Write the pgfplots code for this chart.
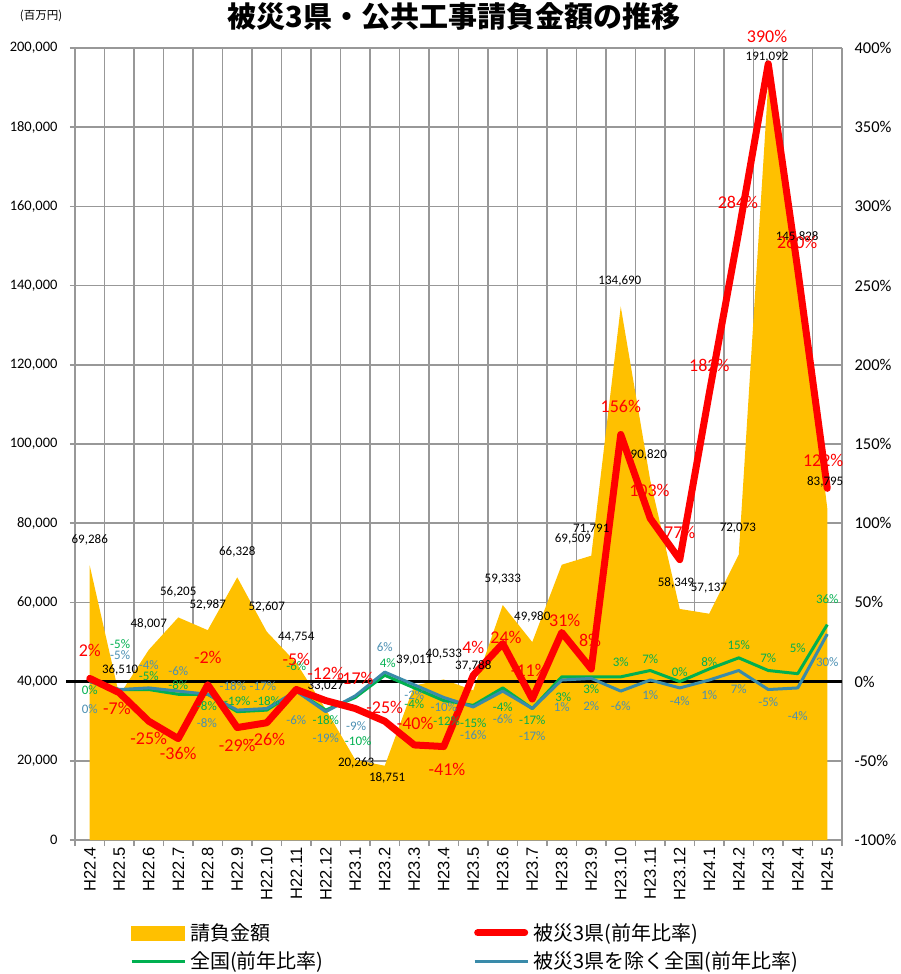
\documentclass[border=0pt]{standalone}
\usepackage{fontspec}
\setmainfont{Carlito}
\newfontfamily\jp{Noto Sans CJK JP}
\newfontfamily\lib{Liberation Sans}
\usepackage{pgfplots}
\pgfplotsset{compat=1.18}
\definecolor{areaY}{HTML}{FFC000}
\definecolor{gridG}{HTML}{989898}
\definecolor{grn}{HTML}{00B050}
\definecolor{tealL}{HTML}{3A8BAA}
\definecolor{tealT}{HTML}{4A8FB2}
\pgfplotsset{base/.style={scale only axis, width=767pt, height=792pt, xmin=-0.5, xmax=25.5,
  /pgf/number format/assume math mode=true}}
\tikzset{
  cnt/.style={font=\fontsize{13}{13}\selectfont, text=black, inner sep=0pt},
  rl/.style={font=\fontsize{18}{18}\selectfont, text=red, inner sep=0pt},
  gl/.style={font=\fontsize{13}{13}\selectfont, text=grn, inner sep=0pt},
  tl/.style={font=\fontsize{13}{13}\selectfont, text=tealT, inner sep=0pt}}
\begin{document}
\begin{tikzpicture}
\useasboundingbox (-75pt,-134pt) rectangle (826pt,840pt);
% ---------- left axis: amounts ----------
\begin{axis}[base,
  ymin=0, ymax=200000,
  ytick={0,20000,40000,60000,80000,100000,120000,140000,160000,180000,200000},
  scaled y ticks=false,
  yticklabel style={/pgf/number format/.cd,fixed,1000 sep={,},/tikz/.cd,
    font=\fontsize{14.5}{14.5}\selectfont, xshift=-9pt},
  xtick={0,...,25},
  xticklabels={H22.4,H22.5,H22.6,H22.7,H22.8,H22.9,H22.10,H22.11,H22.12,H23.1,H23.2,H23.3,H23.4,H23.5,H23.6,H23.7,H23.8,H23.9,H23.10,H23.11,H23.12,H24.1,H24.2,H24.3,H24.4,H24.5},
  x tick label style={font=\lib\fontsize{16.5}{16.5}\selectfont, rotate=90, anchor=east, inner sep=2pt},
  major x tick style={draw=none},
  minor xtick={-0.5,0.5,...,25.5},
  minor tick length=6pt,
  major tick length=5pt,
  tick align=outside,
  xminorgrids, ymajorgrids,
  grid style={gridG, line width=1.6pt},
  minor grid style={gridG, line width=1.6pt},
  minor x tick style={gridG, line width=1.6pt},
  major y tick style={gridG, line width=1.6pt},
  axis x line*=bottom, axis y line*=left,
  axis line style={gridG, line width=1.6pt, -},
]
\addplot[fill=areaY, draw=none] coordinates {
(0,69286)(1,36510)(2,48007)(3,56205)(4,52987)(5,66328)(6,52607)(7,44754)(8,33027)(9,20263)(10,18751)(11,39011)(12,40533)(13,37788)(14,59333)(15,49980)(16,69509)(17,71791)(18,134690)(19,90820)(20,58349)(21,57137)(22,72073)(23,191092)(24,145828)(25,83795)} \closedcycle;
\end{axis}
% ---------- right axis: ratios ----------
\begin{axis}[base,
  ymin=-100, ymax=400,
  axis y line*=right, axis x line=none,
  ytick={-100,-50,0,50,100,150,200,250,300,350,400},
  yticklabel={\pgfmathprintnumber{\tick}\%},
  yticklabel style={font=\fontsize{16.5}{16.5}\selectfont, anchor=west, xshift=9pt},
  major tick length=0pt,
  y axis line style={gridG, line width=1.6pt, -},
  clip=false,
]
\addplot[black, line width=3pt] coordinates {(-0.805,0) (25.5,0)};
\addplot[grn, line width=3pt, line join=round] coordinates {
(0,0)(1,-5)(2,-5)(3,-8)(4,-8)(5,-19)(6,-18)(7,-6)(8,-18)(9,-10)(10,4)(11,-4)(12,-12)(13,-15)(14,-4)(15,-17)(16,3)(17,3)(18,3)(19,7)(20,0)(21,8)(22,15)(23,7)(24,5)(25,36)};
\addplot[tealL, line width=3pt, line join=round] coordinates {
(0,0)(1,-5)(2,-4)(3,-6)(4,-8)(5,-18)(6,-17)(7,-6)(8,-19)(9,-9)(10,6)(11,-2)(12,-10)(13,-16)(14,-6)(15,-17)(16,1)(17,2)(18,-6)(19,1)(20,-4)(21,1)(22,7)(23,-5)(24,-4)(25,30)};
\addplot[red, line width=7pt, line join=round, line cap=round] coordinates {
(0,2)(1,-7)(2,-25)(3,-36)(4,-2)(5,-29)(6,-26)(7,-5)(8,-12)(9,-17)(10,-25)(11,-40)(12,-41)(13,4)(14,24)(15,-11)(16,31)(17,8)(18,156)(19,103)(20,77)(21,182)(22,284)(23,390)(24,260)(25,122)};
\end{axis}
% ---------- labels, title, legend ----------
\begin{axis}[base, ymin=48, ymax=840, y dir=reverse, hide axis, clip=false,
  legend style={at={(axis cs:1.364,947)}, anchor=west, draw=none, fill=none,
    inner sep=0pt, legend columns=2, row sep=10pt,
    font=\jp\fontsize{20}{20}\selectfont,
    nodes={inner sep=0pt},
    /tikz/every odd column/.append style={column sep=4pt},
    /tikz/every even column/.append style={column sep=13pt}},
  legend cell align=left,
]
\addlegendimage{legend image code/.code={\fill[areaY] (0pt,-7pt) rectangle (53pt,7pt);}}
\addlegendentry{\makebox[270pt][l]{請負金額}}
\addlegendimage{legend image code/.code={\draw[red, line width=7pt, line cap=round] (3pt,0pt) -- (50pt,0pt);}}
\addlegendentry{被災3県(前年比率)}
\addlegendimage{legend image code/.code={\draw[grn, line width=3pt] (0pt,0pt) -- (53pt,0pt);}}
\addlegendentry{\makebox[270pt][l]{全国(前年比率)}}
\addlegendimage{legend image code/.code={\draw[tealL, line width=3pt] (0pt,0pt) -- (53pt,0pt);}}
\addlegendentry{被災3県を除く全国(前年比率)}
% title
\node[font=\jp\bfseries\fontsize{29}{29}\selectfont, inner sep=0pt] at (axis cs:12.35,16) {被災3県・公共工事請負金額の推移};
\node[font=\jp\fontsize{11.5}{11.5}\selectfont, inner sep=0pt] at (axis cs:-1.65,16) {(百万円)};
% amount labels
\node[cnt] at (axis cs:0,540) {69,286};
\node[cnt] at (axis cs:1.03,670) {36,510};
\node[cnt] at (axis cs:2,624) {48,007};
\node[cnt] at (axis cs:3,592) {56,205};
\node[cnt] at (axis cs:4,605) {52,987};
\node[cnt] at (axis cs:5,552) {66,328};
\node[cnt] at (axis cs:6,607) {52,607};
\node[cnt] at (axis cs:7,637) {44,754};
\node[cnt] at (axis cs:8,686) {33,027};
\node[cnt] at (axis cs:9.03,763) {20,263};
\node[cnt] at (axis cs:10.08,778) {18,751};
\node[cnt] at (axis cs:11,660) {39,011};
\node[cnt] at (axis cs:12,654) {40,533};
\node[cnt] at (axis cs:13,666) {37,788};
\node[cnt] at (axis cs:14,579) {59,333};
\node[cnt] at (axis cs:15,617) {49,980};
\node[cnt] at (axis cs:16.38,539) {69,509};
\node[cnt] at (axis cs:17,529) {71,791};
\node[cnt] at (axis cs:17.97,281) {134,690};
\node[cnt] at (axis cs:18.95,455) {90,820};
\node[cnt] at (axis cs:19.87,583) {58,349};
\node[cnt] at (axis cs:20.99,588) {57,137};
\node[cnt] at (axis cs:21.97,528) {72,073};
\node[cnt] at (axis cs:22.96,57) {191,092};
\node[cnt] at (axis cs:23.98,237) {145,828};
\node[cnt] at (axis cs:24.93,482) {83,795};
% green labels
\node[gl] at (axis cs:0,690) {0\%};
\node[gl] at (axis cs:1.03,644) {-5\%};
\node[gl] at (axis cs:2,676) {-5\%};
\node[gl] at (axis cs:3,685) {-8\%};
\node[gl] at (axis cs:3.97,706) {-8\%};
\node[gl] at (axis cs:5,701) {-19\%};
\node[gl] at (axis cs:6,701) {-18\%};
\node[gl] at (axis cs:7,666) {-6\%};
\node[gl] at (axis cs:8,720) {-18\%};
\node[gl] at (axis cs:9.1,741) {-10\%};
\node[gl] at (axis cs:10.1,663) {4\%};
\node[gl] at (axis cs:11,704) {-4\%};
\node[gl] at (axis cs:12.1,721) {-12\%};
\node[gl] at (axis cs:13,723) {-15\%};
\node[gl] at (axis cs:14,707) {-4\%};
\node[gl] at (axis cs:15,720) {-17\%};
\node[gl] at (axis cs:16.05,697) {3\%};
\node[gl] at (axis cs:17,689) {3\%};
\node[gl] at (axis cs:18,662) {3\%};
\node[gl] at (axis cs:19,659) {7\%};
\node[gl] at (axis cs:20,672) {0\%};
\node[gl] at (axis cs:21,662) {8\%};
\node[gl] at (axis cs:22,645) {15\%};
\node[gl] at (axis cs:23,658) {7\%};
\node[gl] at (axis cs:24,648) {5\%};
\node[gl] at (axis cs:25,599) {36\%};
% teal labels
\node[tl] at (axis cs:0,709) {0\%};
\node[tl] at (axis cs:1.03,655) {-5\%};
\node[tl] at (axis cs:2,665) {-4\%};
\node[tl] at (axis cs:3,671) {-6\%};
\node[tl] at (axis cs:3.97,723) {-8\%};
\node[tl] at (axis cs:4.85,686) {-18\%};
\node[tl] at (axis cs:5.87,686) {-17\%};
\node[tl] at (axis cs:7,720) {-6\%};
\node[tl] at (axis cs:8,738) {-19\%};
\node[tl] at (axis cs:9.03,726) {-9\%};
\node[tl] at (axis cs:10,647) {6\%};
\node[tl] at (axis cs:11,695) {-2\%};
\node[tl] at (axis cs:12,707) {-10\%};
\node[tl] at (axis cs:13,735) {-16\%};
\node[tl] at (axis cs:14,719) {-6\%};
\node[tl] at (axis cs:15,736) {-17\%};
\node[tl] at (axis cs:16,707) {1\%};
\node[tl] at (axis cs:17,706) {2\%};
\node[tl] at (axis cs:18,706) {-6\%};
\node[tl] at (axis cs:19,695) {1\%};
\node[tl] at (axis cs:20,701) {-4\%};
\node[tl] at (axis cs:21,695) {1\%};
\node[tl] at (axis cs:22,689) {7\%};
\node[tl] at (axis cs:23,702) {-5\%};
\node[tl] at (axis cs:24,716) {-4\%};
\node[tl] at (axis cs:25,662) {30\%};
% red labels
\node[rl] at (axis cs:0,650) {2\%};
\node[rl] at (axis cs:0.92,708) {-7\%};
\node[rl] at (axis cs:2,738) {-25\%};
\node[rl] at (axis cs:3,753) {-36\%};
\node[rl] at (axis cs:4,657) {-2\%};
\node[rl] at (axis cs:5,745) {-29\%};
\node[rl] at (axis cs:6,739) {-26\%};
\node[rl] at (axis cs:7,659) {-5\%};
\node[rl] at (axis cs:8,673) {-12\%};
\node[rl] at (axis cs:9,678) {-17\%};
\node[rl] at (axis cs:10,707) {-25\%};
\node[rl] at (axis cs:11.03,723) {-40\%};
\node[rl] at (axis cs:12.11,769) {-41\%};
\node[rl] at (axis cs:13,647) {4\%};
\node[rl] at (axis cs:14.11,637) {24\%};
\node[rl] at (axis cs:14.9,670) {-11\%};
\node[rl] at (axis cs:16.1,620) {31\%};
\node[rl] at (axis cs:16.96,640) {8\%};
\node[rl] at (axis cs:18,406) {156\%};
\node[rl] at (axis cs:18.97,490) {103\%};
\node[rl] at (axis cs:20,532) {77\%};
\node[rl] at (axis cs:21,365) {182\%};
\node[rl] at (axis cs:21.97,202) {284\%};
\node[rl] at (axis cs:22.96,36) {390\%};
\node[rl] at (axis cs:23.98,242) {260\%};
\node[rl] at (axis cs:24.86,460) {122\%};
\end{axis}
\end{tikzpicture}
\end{document}
